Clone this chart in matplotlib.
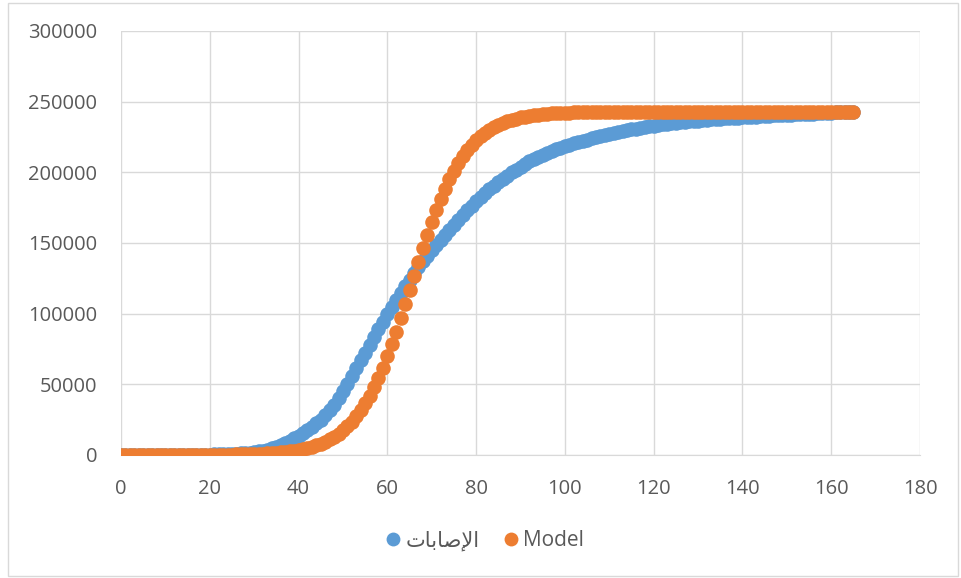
import matplotlib.pyplot as plt
import matplotlib.patches as patches
import numpy as np

# Jours depuis le début de la série
jours = np.arange(0, 166)

# Cas cumulés observés (الإصابات)
cas_observes = [
    1, 1, 2, 3, 5, 7, 10, 15, 20, 30,
    40, 55, 70, 90, 110, 140, 170, 210, 250, 300,
    350, 410, 480, 560, 660, 780, 930, 1100, 1350, 1650,
    2000, 2500, 3100, 3800, 4700, 5700, 6900, 8300, 9900, 11700,
    13600, 15600, 17700, 19900, 22300, 25000, 28000, 31500, 35500, 40000,
    45000, 50500, 56000, 61500, 67000, 72500, 78000, 83500, 89000, 94400,
    99700, 104800, 109800, 114700, 119400, 124000, 128500, 132800, 137000, 141000,
    144900, 148700, 152400, 156000, 159500, 162900, 166300, 169700, 173000, 176300,
    179500, 182400, 185200, 187900, 190500, 193000, 195400, 197700, 199900, 202000,
    204000, 205900, 207700, 209400, 211000, 212500, 213900, 215200, 216400, 217500,
    218500, 219500, 220500, 221400, 222300, 223200, 224000, 224800, 225600, 226400,
    227100, 227800, 228500, 229200, 229800, 230400, 231000, 231600, 232100, 232600,
    233100, 233500, 233900, 234300, 234700, 235100, 235400, 235700, 236000, 236300,
    236600, 236900, 237200, 237500, 237700, 237900, 238100, 238300, 238500, 238700,
    238900, 239100, 239300, 239500, 239700, 239900, 240100, 240300, 240400, 240600,
    240700, 240900, 241000, 241200, 241300, 241500, 241600, 241800, 241900, 242100,
    242200, 242400, 242500, 242700, 242800, 243000,
]

# Valeurs du modèle
cas_modele = [
    5, 6, 7, 8, 9, 11, 13, 16, 18, 22,
    25, 30, 36, 42, 49, 58, 69, 81, 96, 113,
    133, 157, 186, 219, 258, 304, 359, 423, 499, 588,
    693, 818, 963, 1130, 1340, 1580, 1860, 2180, 2570, 3030,
    3560, 4190, 4930, 5790, 6800, 7980, 9360, 11000, 12800, 15000,
    17500, 20400, 23600, 27400, 31700, 36500, 41900, 48000, 54600, 61900,
    69900, 78400, 87300, 96800, 106500, 116500, 126500, 136400, 146200, 155600,
    164600, 173100, 181000, 188400, 195000, 201000, 206500, 211300, 215600, 219300,
    222600, 225500, 228000, 230200, 232000, 233600, 235000, 236200, 237200, 238000,
    238800, 239400, 240000, 240400, 240800, 241100, 241400, 241700, 241900, 242000,
    242200, 242300, 242400, 242500, 242600, 242700, 242700, 242800, 242800, 242800,
    242900, 242900, 242900, 242900, 242900, 242900, 242900, 242900, 243000, 243000,
    243000, 243000, 243000, 243000, 243000, 243000, 243000, 243000, 243000, 243000,
    243000, 243000, 243000, 243000, 243000, 243000, 243000, 243000, 243000, 243000,
    243000, 243000, 243000, 243000, 243000, 243000, 243000, 243000, 243000, 243000,
    243000, 243000, 243000, 243000, 243000, 243000, 243000, 243000, 243000, 243000,
    243000, 243000, 243000, 243000, 243000, 243000,
]

# Libellé arabe en formes de présentation, dans l'ordre d'affichage
nom_cas = '\uFE95\uFE8E\uFE91\uFE8E\uFEBB\uFEF9\uFE8D'
nom_modele = 'Model'

plt.rcParams['font.family'] = ['Open Sans', 'DejaVu Sans']

fig = plt.figure(figsize=(9.61, 5.78), dpi=100)
ax = fig.add_axes([121 / 961, 1 - 455 / 578, (920 - 121) / 961, (455 - 31) / 578])

# Cadre extérieur du graphique
fig.patches.append(patches.Rectangle((8 / 961, 2 / 578), 950 / 961, 573 / 578,
                                     transform=fig.transFigure, fill=False,
                                     edgecolor='#d9d9d9', linewidth=1))

ax.plot(jours, cas_observes, 'o', color='#5B9BD5', markersize=10.5,
        markeredgewidth=0, label=nom_cas, zorder=3)
ax.plot(jours, cas_modele, 'o', color='#ED7D31', markersize=10.5,
        markeredgewidth=0, label=nom_modele, zorder=4)

ax.set_xlim(0, 180)
ax.set_ylim(0, 300000)
ax.set_xticks(np.arange(0, 181, 20))
ax.set_yticks(np.arange(0, 300001, 50000))
ax.grid(True, color='#d9d9d9', linewidth=1)
ax.set_axisbelow(True)

for cote in ['top', 'right', 'left']:
    ax.spines[cote].set_visible(False)
ax.spines['bottom'].set_color('#d9d9d9')

ax.tick_params(axis='both', length=0, labelsize=14.5, labelcolor='#595959')
ax.tick_params(axis='y', pad=17)
ax.tick_params(axis='x', pad=17)

fig.legend(loc='center', bbox_to_anchor=(0.503, 1 - 541 / 578), ncol=2,
           frameon=False, fontsize=15, labelcolor='#595959',
           handletextpad=0.1, columnspacing=1.0, handlelength=1.0,
           markerscale=0.95)

fig.savefig('out.png', dpi=100)
